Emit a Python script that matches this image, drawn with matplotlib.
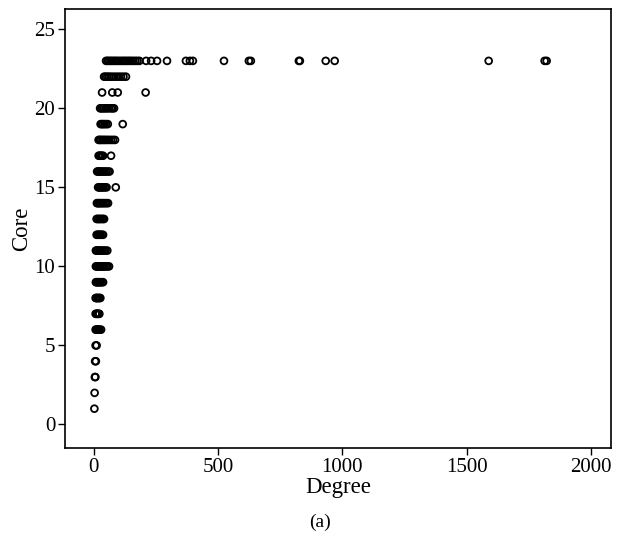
import matplotlib.pyplot as plt

plt.rcParams['font.family'] = ['Liberation Serif', 'DejaVu Serif']

# k-core index of each row and the node degrees found on that row
core_values = list(range(1, 24))
degree_rows = [
    [3],                                                    # 1
    [4],                                                    # 2
    [5, 7],                                                 # 3
    [6, 9],                                                 # 4
    [8, 12],                                                # 5
    [8, 11, 14, 17, 20, 24, 30],                            # 6
    [8, 11, 14, 17, 20, 23],                                # 7
    [8, 11, 14, 17, 20, 24, 27],                            # 8
    [9, 12, 16, 20, 24, 28, 33, 38],                        # 9
    [9, 12, 16, 20, 24, 28, 32, 36, 40, 44, 50, 56, 62],    # 10
    [9, 13, 17, 21, 25, 30, 36, 42, 48, 55],                # 11
    [12, 16, 20, 24, 28, 33, 38],                           # 12
    [12, 16, 20, 24, 28, 33, 38, 42],                       # 13
    [13, 17, 21, 25, 30, 35, 40, 46, 52, 58],               # 14
    [18, 22, 26, 30, 35, 40, 46, 52, 89],                   # 15
    [14, 18, 22, 27, 32, 38, 44, 50, 57, 64],               # 16
    [20, 24, 28, 33, 38, 70],                               # 17
    [20, 25, 30, 36, 42, 48, 55, 62, 70, 78, 86],           # 18
    [28, 33, 38, 44, 50, 57, 117],                          # 19
    [26, 31, 36, 42, 48, 55, 62, 70, 76, 82],               # 20
    [34, 75, 97, 209],                                      # 21
    [42, 48, 55, 62, 70, 80, 90, 100, 110, 120, 130],       # 22
    [50, 56, 62, 68, 75, 82, 88, 95, 102, 110, 117, 124, 131, 138,
     145, 152, 160, 168, 176, 184, 211, 231, 255, 295, 371, 387, 399,
     524, 624, 632, 825, 829, 933, 969, 1588, 1813, 1821],  # 23
]

x_ticks = [0, 500, 1000, 1500, 2000]
y_ticks = [0, 5, 10, 15, 20, 25]

degree = []
core = []
for k, row in zip(core_values, degree_rows):
    degree += row
    core += [k] * len(row)

fig = plt.figure(figsize=(6.21, 5.40), dpi=100)
ax = fig.add_axes([0.1047, 0.170, 0.8793, 0.813])

ax.scatter(degree, core, s=24, facecolors='none', edgecolors='black',
           linewidths=1.3)

ax.set_xlim(-115, 2080)
ax.set_ylim(-1.5, 26.27)
ax.set_xticks(x_ticks)
ax.set_yticks(y_ticks)
ax.tick_params(direction='out', length=5, width=1, labelsize=15, pad=2)
ax.tick_params(top=False, right=False)
for sp in ax.spines.values():
    sp.set_linewidth(1.2)

ax.set_xlabel('Degree', fontsize=16.5, labelpad=0)
ax.set_ylabel('Core', fontsize=16.5, labelpad=2)

fig.text(0.515, 0.033, '(a)', ha='center', va='center', fontsize=14)

fig.savefig('out.png', dpi=100)
